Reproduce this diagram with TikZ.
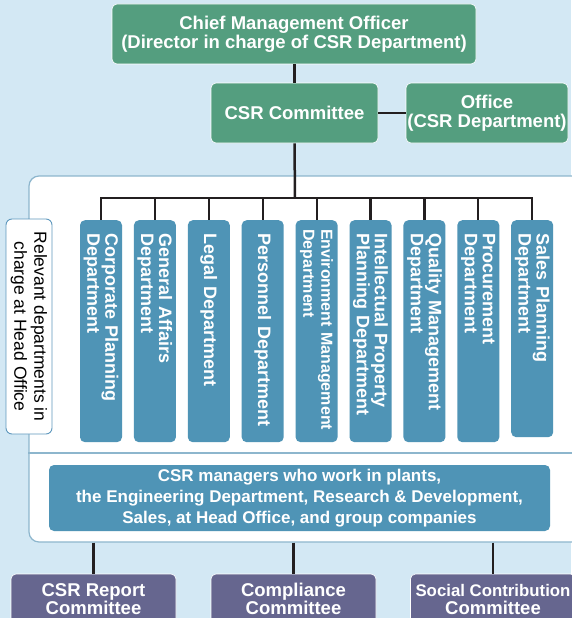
\documentclass[tikz,border=0pt]{standalone}
\usepackage{fontspec}
\setmainfont{Liberation Sans}
\definecolor{bg}{HTML}{D3E8F4}
\definecolor{grn}{HTML}{549E7F}
\definecolor{blu}{HTML}{4F94B6}
\definecolor{pur}{HTML}{66668F}
\definecolor{ln}{HTML}{231F20}
\definecolor{pbord}{HTML}{8DB6CD}
\definecolor{lbord}{HTML}{5E98BD}
\begin{document}
\begin{tikzpicture}[x=1pt,y=-1pt,
  box/.style={rectangle, rounded corners=5pt, draw=white, line width=0.6pt, text=white, align=center, inner sep=0pt},
  greenbox/.style={box, fill=grn, font=\fontsize{18.5}{19}\selectfont\bfseries},
  deptbox/.style={rectangle, rounded corners=5pt, fill=blu, text=white, rotate=-90, anchor=west, align=left,
     inner xsep=13pt, inner ysep=0pt, minimum height=42pt, text width=196pt, font=\fontsize{18}{18}\selectfont\bfseries},
  purbox/.style={box, fill=pur, minimum width=165pt, minimum height=50pt, font=\fontsize{18.5}{18}\selectfont\bfseries},
  conn/.style={draw=ln, line width=2.5pt}
]
\useasboundingbox (0,0) rectangle (571,618);
\fill[bg] (0,0) rectangle (571,618);

% panel
\node[rectangle, rounded corners=10pt, fill=white, draw=pbord, line width=1.2pt, minimum width=556pt, minimum height=366pt, inner sep=0pt] (panel) at (307,359) {};
\draw[pbord, line width=1.2pt] (panel.west |- 0,453) -- (panel.east |- 0,453);

% top
\node[greenbox, minimum width=364pt, minimum height=60pt] (cmo) at (294,34) {Chief Management Officer\\(Director in charge of CSR Department)};
\node[greenbox, minimum width=167pt, minimum height=60pt] (csr) at (294.5,113) {CSR Committee};
\node[greenbox, minimum width=162pt, minimum height=60pt] (off) at (487,113) {Office\\(CSR Department)};
\draw[conn] (cmo.south -| csr.north) -- (csr.north);
\draw[conn] (csr.east) -- (off.west);

% departments
\node[deptbox] (d1) at (101,220) {Corporate Planning\\Department};
\node[deptbox] (d2) at (154.9,220) {General Affairs\\Department};
\node[deptbox] (d3) at (208.8,220) {Legal Department};
\node[deptbox] (d4) at (262.7,220) {Personnel Department};
\node[deptbox, inner xsep=9pt, text width=204pt, font=\fontsize{16}{18}\selectfont\bfseries] (d5) at (316.6,220) {Environment Management\\Department};
\node[deptbox] (d6) at (370.5,220) {Intellectual Property\\Planning Department};
\node[deptbox] (d7) at (424.4,220) {Quality Management\\Department};
\node[deptbox] (d8) at (478.3,220) {Procurement\\Department};
\node[deptbox, text width=191pt] (d9) at (532.2,220) {Sales Planning\\Department};

\coordinate (bus) at (295,198);
\draw[conn] (csr.south) -- (bus);
\draw[conn, line width=2.2pt, line cap=rect] (d1.west |- bus) -- (d9.west |- bus);
\foreach \d in {d1,d2,d3,d4,d5,d6,d7,d8,d9}{
  \draw[conn, line width=2.2pt] (\d.west |- bus) -- (\d.west);
}

% relevant label
\node[rectangle, rounded corners=6pt, fill=white, draw=lbord, line width=0.9pt, rotate=-90, minimum width=215pt, minimum height=46pt, inner sep=0pt, align=center, font=\fontsize{17.5}{20}\selectfont] (rel) at (29,326.5) {Relevant departments in\\charge at Head Office};

% managers
\node[box, fill=blu, draw=none, minimum width=501pt, minimum height=66pt, font=\fontsize{17}{21}\selectfont\bfseries] (mgr) at (299.5,498) {CSR managers who work in plants,\\the Engineering Department, Research \& Development,\\Sales, at Head Office, and group companies};

% bottom committees
\node[purbox] (rep) at (93.5,599) {CSR Report\\Committee};
\node[purbox] (comp) at (293.5,599) {Compliance\\Committee};
\node[purbox] (soc) at (493,599) {{\fontsize{16.8}{18}\selectfont Social Contribution}\\Committee};
\foreach \b in {rep,comp,soc}{
  \draw[conn] (\b.north |- panel.south) -- (\b.north);
}
\end{tikzpicture}
\end{document}
